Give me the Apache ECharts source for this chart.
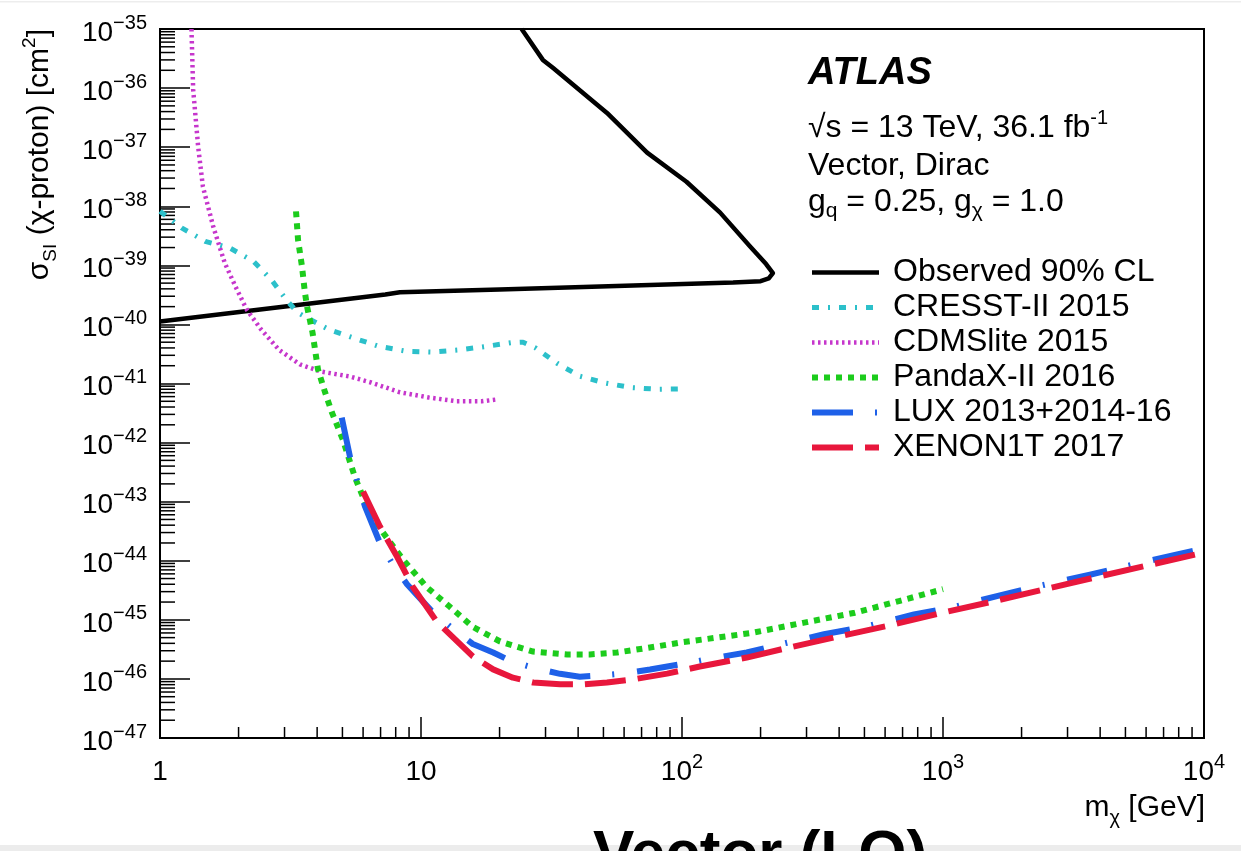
<!DOCTYPE html>
<html><head><meta charset="utf-8">
<script src="https://cdn.jsdelivr.net/npm/echarts@6/dist/echarts.min.js"></script>
<style>html,body{margin:0;padding:0;background:#fff}#c{width:1241px;height:851px}</style>
</head><body><div id="c"></div>
<script>
// ---- data (mass in GeV, cross-section in cm^2) ----
const obsMass  = [1, 7.3, 8.3, 20, 48.5, 157, 200, 215, 223, 210, 182, 140, 104, 73.5, 51.6, 32, 29.3, 24.3];
const obsSigma = [1.12e-40, 3.2e-40, 3.5e-40, 3.9e-40, 4.4e-40, 5.1e-40, 5.4e-40, 6.0e-40, 7.4e-40, 1.05e-39, 2.1e-39, 7.8e-39, 2.6e-38, 8.1e-38, 3.8e-37, 2.2e-36, 3.0e-36, 1e-35];

const cresstMass  = [1, 1.21, 1.49, 1.85, 2.28, 2.67, 3.08, 3.38, 4.43, 5.52, 6.88, 8.84, 11.0, 14.0, 17.7, 22.1, 24.6, 27.5, 33.2, 40.6, 50.7, 64.3, 80.2, 100];
const cresstSigma = [8.2e-39, 4.3e-39, 2.55e-39, 1.97e-39, 1.17e-39, 5.7e-40, 2.46e-40, 1.57e-40, 8.2e-41, 5.9e-41, 4.27e-41, 3.5e-41, 3.4e-41, 3.7e-41, 4.24e-41, 4.9e-41, 5.0e-41, 4.0e-41, 2.2e-41, 1.33e-41, 1.02e-41, 8.5e-42, 8.0e-42, 8.1e-42];

const cdmsMass  = [1.32, 1.34, 1.40, 1.46, 1.60, 1.77, 1.95, 2.15, 2.44, 2.86, 3.44, 4.14, 5.35, 6.43, 8.31, 10.7, 13.7, 17.1, 19.7];
const cdmsSigma = [1e-35, 9.4e-37, 1.02e-37, 2.15e-38, 4.5e-39, 1.1e-39, 4.3e-40, 1.78e-40, 8.2e-41, 3.7e-41, 2.1e-41, 1.59e-41, 1.31e-41, 1.04e-41, 7.1e-42, 5.8e-42, 5.0e-42, 5.0e-42, 5.4e-42];

const pandaMass  = [3.32, 3.38, 3.50, 3.59, 3.66, 3.84, 4.03, 4.29, 4.56, 4.79, 5.02, 5.58, 6.21, 7.15, 8.53, 10.5, 12.9, 15.8, 20.1, 26.9, 36.3, 44.4, 56.4, 75.4, 101, 136, 185, 291, 460, 684, 1000];
const pandaSigma = [8.2e-39, 2.7e-39, 9.5e-40, 3.5e-40, 2.0e-40, 7.3e-41, 1.73e-41, 7.1e-42, 3.2e-42, 1.88e-42, 1.12e-42, 2.6e-43, 8.2e-44, 3.0e-44, 1.05e-44, 3.6e-45, 1.66e-45, 7.6e-46, 4.3e-46, 2.9e-46, 2.6e-46, 2.6e-46, 2.8e-46, 3.4e-46, 4.2e-46, 5.0e-46, 6.0e-46, 8.9e-46, 1.32e-45, 2.1e-45, 3.3e-45];

const luxMass  = [4.97, 5.35, 6.10, 6.96, 7.81, 8.84, 11.1, 13.3, 15.8, 18.9, 22.3, 26.9, 34.1, 40.6, 48.5, 59.4, 75.4, 107, 136, 177, 229, 350, 505, 774, 1112, 1652, 2373, 3655, 5093, 7816, 10000];
const luxSigma = [2.65e-42, 5.6e-43, 8.3e-44, 2.0e-44, 8.6e-45, 4.0e-45, 1.34e-45, 6.9e-46, 3.9e-46, 2.8e-46, 1.97e-46, 1.55e-46, 1.22e-46, 1.09e-46, 1.14e-46, 1.23e-46, 1.44e-46, 1.88e-46, 2.3e-46, 2.8e-46, 3.7e-46, 5.7e-46, 7.7e-46, 1.23e-45, 1.67e-45, 2.6e-45, 3.8e-45, 5.8e-45, 8.2e-45, 1.27e-44, 1.6e-44];

const xenonMass  = [6.0, 6.96, 8.09, 9.31, 11.5, 13.3, 15.8, 18.9, 22.5, 26.9, 34.1, 41.8, 51.6, 64.9, 87.7, 117, 177, 250, 396, 643, 982, 1555, 2460, 3880, 6120, 10000];
const xenonSigma = [1.48e-43, 3.8e-44, 1.18e-44, 3.6e-45, 9.3e-46, 5.0e-46, 2.4e-46, 1.45e-46, 1.05e-46, 8.7e-47, 8.1e-47, 8.1e-47, 8.7e-47, 9.8e-47, 1.23e-46, 1.62e-46, 2.3e-46, 3.3e-46, 5.2e-46, 8.3e-46, 1.3e-45, 2.05e-45, 3.3e-45, 5.3e-45, 8.4e-45, 1.38e-44];

const seriesNames = ['Observed 90% CL', 'CRESST-II 2015', 'CDMSlite 2015', 'PandaX-II 2016', 'LUX 2013+2014-16', 'XENON1T 2017'];

// axis ranges (cm^2 and GeV) and tick decades
const xMin = 1, xMax = 1e4;
const yMinExp = -47, yMaxExp = -35;
const xDecades = [0, 1, 2, 3];
const yDecades = [-47, -46, -45, -44, -43, -42, -41, -40, -39, -38, -37, -36];
const minorDigits = [2, 3, 4, 5, 6, 7, 8, 9];

// the y axis is drawn in units of 1e-47 cm^2 (ECharts rounds values below 1e-20 to 0)
const Y_UNIT_EXP = yMinExp;
const toUnit = s => s / Math.pow(10, Y_UNIT_EXP);

const FONT = '"Liberation Sans", Arial, Helvetica, sans-serif';

const xMinor = [];
xDecades.forEach(e => minorDigits.forEach(d => xMinor.push(d * Math.pow(10, e))));
const yMinor = [];
yDecades.forEach(e => minorDigits.forEach(d => yMinor.push(d * Math.pow(10, e - Y_UNIT_EXP))));

function pairs(xs, ys) { return xs.map((x, i) => [x, toUnit(ys[i])]); }
function lineSeries(name, xs, ys, color, width, dash) {
  return {
    name: name, type: 'line', data: pairs(xs, ys),
    symbol: 'none', showSymbol: false, smooth: false, clip: true,
    lineStyle: { color: color, width: width, type: dash, cap: 'butt', join: 'round' },
    itemStyle: { color: color }, z: 5, silent: true
  };
}
function powLabel(e) {
  if (e === 0) return '{b|1}';
  if (e === 1) return '{b|10}';
  return '{b|10}{s|' + String(e).replace('-', '\u2212') + '}';
}
const labelRich = {
  b: { fontSize: 28, lineHeight: 40, fontFamily: FONT, color: '#000' },
  s: { fontSize: 20, lineHeight: 17, verticalAlign: 'top', fontFamily: FONT, color: '#000' }
};

const chart = echarts.init(document.getElementById('c'), null, { renderer: 'canvas' });
const option = {
  animation: false,
  backgroundColor: '#fff',
  textStyle: { fontFamily: FONT },
  grid: { left: 160, right: 37, top: 29, bottom: 113, show: true, borderColor: '#000', borderWidth: 2, containLabel: false, outerBoundsMode: 'none' },
  legend: {
    data: seriesNames, orient: 'vertical', left: 809, top: 255, padding: 0,
    itemWidth: 67, itemHeight: 20, itemGap: 0, selectedMode: false,
    textStyle: { fontSize: 32, color: '#000', fontFamily: FONT, lineHeight: 35, padding: [0, 0, 0, 9] },
    lineStyle: { width: 'inherit' },
    itemStyle: { opacity: 0, borderWidth: 0 }
  },
  xAxis: {
    type: 'log', logBase: 10, min: xMin, max: xMax, interval: 1,
    axisLine: { show: true, lineStyle: { color: '#000', width: 2 } },
    axisTick: { show: true, inside: true, length: 21, lineStyle: { color: '#000', width: 1.5 } },
    splitLine: { show: false },
    axisLabel: { margin: 14, formatter: v => powLabel(Math.round(Math.log10(v))), rich: labelRich, showMinLabel: true, showMaxLabel: true }
  },
  yAxis: {
    type: 'log', logBase: 10, min: toUnit(Math.pow(10, yMinExp)), max: toUnit(Math.pow(10, yMaxExp)), interval: 1,
    axisLine: { show: true, lineStyle: { color: '#000', width: 2 } },
    axisTick: { show: true, inside: true, length: 30, lineStyle: { color: '#000', width: 1.5 } },
    splitLine: { show: false },
    axisLabel: { margin: 13, formatter: v => powLabel(Math.round(Math.log10(v)) + Y_UNIT_EXP), rich: labelRich, padding: [8, 0, 0, 0], showMinLabel: true, showMaxLabel: true }
  },
  series: [
    {
      type: 'custom', name: 'xminor', silent: true, z: 2, clip: false,
      data: xMinor.map(v => [v, 1]),
      renderItem: function (params, api) {
        const p = api.coord([api.value(0), api.value(1)]);
        return { type: 'line', shape: { x1: p[0], y1: p[1], x2: p[0], y2: p[1] - 11 }, style: { stroke: '#000', lineWidth: 1.5 } };
      }
    },
    {
      type: 'custom', name: 'yminor', silent: true, z: 2, clip: false,
      data: yMinor.map(v => [xMin, v]),
      renderItem: function (params, api) {
        const p = api.coord([api.value(0), api.value(1)]);
        return { type: 'line', shape: { x1: p[0], y1: p[1], x2: p[0] + 15, y2: p[1] }, style: { stroke: '#000', lineWidth: 1.5 } };
      }
    },
    lineSeries(seriesNames[0], obsMass, obsSigma, '#000000', 4.5, 'solid'),
    lineSeries(seriesNames[1], cresstMass, cresstSigma, '#2cc0ca', 5, [7, 9, 2, 9]),
    lineSeries(seriesNames[2], cdmsMass, cdmsSigma, '#c636cc', 4.5, [2.5, 3.5]),
    lineSeries(seriesNames[3], pandaMass, pandaSigma, '#1ccc1c', 6, [6, 6]),
    lineSeries(seriesNames[4], luxMass, luxSigma, '#1e60e8', 6, [41, 22, 2, 23]),
    lineSeries(seriesNames[5], xenonMass, xenonSigma, '#e8173c', 6, [41, 12])
  ],
  graphic: [
    { type: 'rect', shape: { x: 0, y: 845, width: 1241, height: 6 }, style: { fill: '#ececec' }, z: 0 },
    { type: 'rect', shape: { x: 0, y: 1, width: 1241, height: 1.5 }, style: { fill: '#ededed' }, z: 0 },
    { type: 'text', x: 808, y: 74, z: 10, style: { text: 'ATLAS', font: 'italic bold 38px ' + FONT, fill: '#000', align: 'left', verticalAlign: 'middle', textAlign: 'left', textVerticalAlign: 'middle' } },
    { type: 'text', x: 808, y: 128, z: 10, style: {
        text: '{t|\u221As = 13 TeV, 36.1 fb}{p|-1}', align: 'left', verticalAlign: 'middle', textAlign: 'left', textVerticalAlign: 'middle',
        rich: { t: { fontSize: 32, lineHeight: 40, fontFamily: FONT, fill: '#000' }, p: { fontSize: 20, lineHeight: 23, verticalAlign: 'top', fontFamily: FONT, fill: '#000' } } } },
    { type: 'text', x: 808, y: 166, z: 10, style: { text: 'Vector, Dirac', font: '32px ' + FONT, fill: '#000', align: 'left', verticalAlign: 'middle', textAlign: 'left', textVerticalAlign: 'middle' } },
    { type: 'text', x: 808, y: 202, z: 10, style: {
        text: '{t|g}{d|q}{t| = 0.25, g}{d|\u03C7}{t| = 1.0}', align: 'left', verticalAlign: 'middle', textAlign: 'left', textVerticalAlign: 'middle',
        rich: { t: { fontSize: 32, lineHeight: 40, fontFamily: FONT, fill: '#000' }, d: { fontSize: 21, lineHeight: 6, verticalAlign: 'bottom', fontFamily: FONT, fill: '#000' } } } },
    { type: 'text', x: 1205, y: 808, z: 10, style: {
        text: '{t|m}{d|\u03C7}{t| [GeV]}', align: 'right', verticalAlign: 'middle', textAlign: 'right', textVerticalAlign: 'middle',
        rich: { t: { fontSize: 30, lineHeight: 40, fontFamily: FONT, fill: '#000' }, d: { fontSize: 20, lineHeight: 16, verticalAlign: 'bottom', fontFamily: FONT, fill: '#000' } } } },
    { type: 'text', x: 40, y: 29, rotation: Math.PI / 2, z: 10, style: {
        text: '{t|\u03C3}{d|SI}{t| (\u03C7-proton) [cm}{u|2}{t|]}', align: 'right', verticalAlign: 'middle', textAlign: 'right', textVerticalAlign: 'middle',
        rich: { t: { fontSize: 30, lineHeight: 40, fontFamily: FONT, fill: '#000' }, d: { fontSize: 19, lineHeight: 25, verticalAlign: 'bottom', fontFamily: FONT, fill: '#000' }, u: { fontSize: 19, lineHeight: 27, verticalAlign: 'top', fontFamily: FONT, fill: '#000' } } } },
    { type: 'text', x: 760, y: 856, z: 10, style: { text: 'Vector (LO)', font: 'bold 62px ' + FONT, fill: '#000', align: 'center', verticalAlign: 'middle', textAlign: 'center', textVerticalAlign: 'middle' } }
  ]
};
chart.setOption(option);
</script></body></html>
